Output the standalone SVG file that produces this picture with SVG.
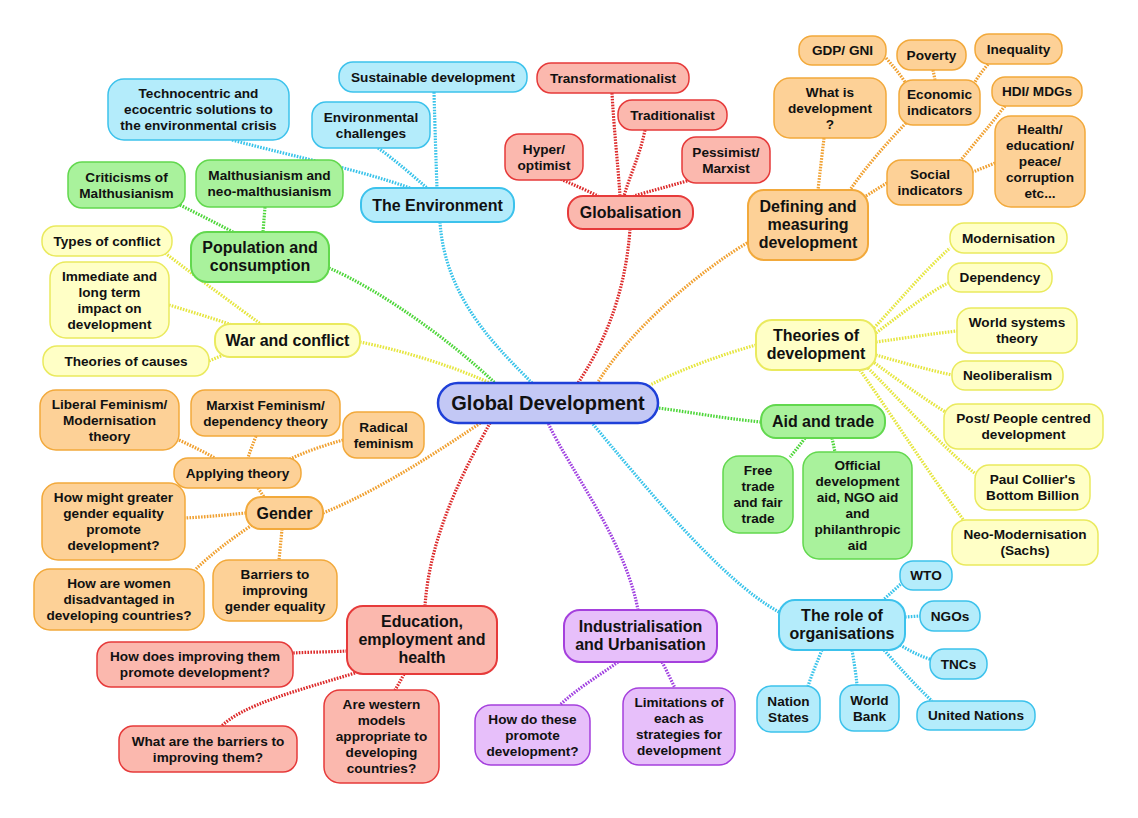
<svg xmlns="http://www.w3.org/2000/svg" width="1138" height="818" viewBox="0 0 1138 818">
<style>
text{font-family:"Liberation Sans",Arial,sans-serif;font-weight:bold;fill:#111;text-anchor:middle}
.t{font-size:13.6px}
.m{font-size:16px}
.c{font-size:20px}
rect{stroke-width:1.5}
.mn{stroke-width:2}
.nb{fill:#b4ecfb;stroke:#3cc2ec}
.nr{fill:#fbb8ae;stroke:#e63a3a}
.no{fill:#fdd197;stroke:#f2a93b}
.ny{fill:#ffffc6;stroke:#eaea5e}
.ng{fill:#a9f29c;stroke:#62d84e}
.np{fill:#e7bffa;stroke:#a540dd}
.nc{fill:#c3c8f5;stroke:#1f40d8;stroke-width:2.5}
#connectors path{fill:none;stroke-width:3.2;stroke-dasharray:1.6 1.3}
.lb{stroke:#38c3ea}.lr{stroke:#dc2a2a}.lo{stroke:#f0a030}.ly{stroke:#e6e640}.lg{stroke:#4ed63a}.lp{stroke:#a040e0}
</style>
<rect x="0" y="0" width="1138" height="818" fill="#ffffff" stroke="none"/>
<g id="connectors">
<path class="lb" d="M440,222 C445,300 500,350 532,383"/>
<path class="lr" d="M630,229 C625,300 600,350 578,383"/>
<path class="lo" d="M752,240 C700,270 630,330 598,382"/>
<path class="ly" d="M756,345 C720,355 680,370 650,385"/>
<path class="lg" d="M761,422 C720,418 690,412 658,408"/>
<path class="lb" d="M779,612 C720,580 640,480 592,423"/>
<path class="lp" d="M638,610 C625,540 570,470 548,423"/>
<path class="lr" d="M425,606 C430,530 470,460 490,423"/>
<path class="lo" d="M323,513 C380,490 440,450 482,422"/>
<path class="ly" d="M360,342 C400,350 450,365 490,383"/>
<path class="lg" d="M329,268 C380,290 450,340 495,383"/>
<path class="lb" d="M434,92 C435,130 436,160 437,188"/>
<path class="lb" d="M378,148 C395,160 412,175 427,188"/>
<path class="lb" d="M232,140 C300,158 360,170 410,188"/>
<path class="lr" d="M612,93 C614,130 618,165 620,196"/>
<path class="lr" d="M645,130 C640,155 630,175 624,196"/>
<path class="lr" d="M558,178 C572,184 586,190 598,196"/>
<path class="lr" d="M690,180 C670,186 650,191 634,196"/>
<path class="lo" d="M824,138 C822,155 820,172 818,190"/>
<path class="lo" d="M906,123 C885,145 865,168 850,190"/>
<path class="lo" d="M887,183 C880,187 874,191 866,196"/>
<path class="lo" d="M886,58 C893,66 899,73 905,82"/>
<path class="lo" d="M933,70 L935,80"/>
<path class="lo" d="M990,62 C984,69 979,75 975,82"/>
<path class="lo" d="M1005,106 C990,125 975,143 960,161"/>
<path class="lo" d="M995,163 C988,166 980,169 973,172"/>
<path class="ly" d="M874,328 C900,300 925,270 950,248"/>
<path class="ly" d="M876,333 C900,315 925,295 948,283"/>
<path class="ly" d="M876,342 C905,338 930,334 957,331"/>
<path class="ly" d="M876,355 C900,362 925,369 952,375"/>
<path class="ly" d="M872,361 C895,378 920,396 947,413"/>
<path class="ly" d="M866,366 C900,400 940,445 978,476"/>
<path class="ly" d="M860,370 C895,420 930,475 965,522"/>
<path class="lg" d="M805,438 C800,445 795,451 790,457"/>
<path class="lg" d="M832,438 L835,452"/>
<path class="lb" d="M882,601 C890,594 896,588 902,583"/>
<path class="lb" d="M905,617 L920,616"/>
<path class="lb" d="M900,645 C910,651 920,656 932,660"/>
<path class="lb" d="M822,650 C817,662 812,674 808,686"/>
<path class="lb" d="M852,650 C854,662 856,674 857,685"/>
<path class="lb" d="M884,650 C900,668 915,685 932,701"/>
<path class="lp" d="M618,662 C600,675 575,690 560,705"/>
<path class="lp" d="M662,662 C667,671 671,680 675,688"/>
<path class="lr" d="M347,651 C330,652 310,652 293,653"/>
<path class="lr" d="M355,673 C300,690 240,705 220,728"/>
<path class="lr" d="M404,674 C401,680 398,685 395,690"/>
<path class="lo" d="M258,488 L264,497"/>
<path class="lo" d="M246,513 C225,515 205,517 185,518"/>
<path class="lo" d="M252,525 C230,540 210,555 195,570"/>
<path class="lo" d="M282,529 C281,540 280,550 279,560"/>
<path class="lo" d="M179,440 C192,446 204,452 215,458"/>
<path class="lo" d="M256,436 C253,444 250,451 248,458"/>
<path class="lo" d="M343,440 C325,445 305,452 290,459"/>
<path class="ly" d="M165,253 C200,280 235,305 262,325"/>
<path class="ly" d="M169,305 C192,312 215,319 238,327"/>
<path class="ly" d="M209,361 C216,358 223,355 230,352"/>
<path class="lg" d="M180,205 C198,214 216,223 233,232"/>
<path class="lg" d="M265,207 L263,232"/>
</g>
<g id="central"><rect class="nc" x="438" y="383" width="220" height="40" rx="20"/><text class="c" x="548" y="410">Global Development</text></g>
<g id="environment"><rect class="nb mn" x="361" y="188" width="153" height="34" rx="15"/><text class="m" x="437.5" y="210.5">The Environment</text></g>
<g id="sustainable"><rect class="nb" x="339" y="62" width="188" height="30" rx="14"/><text class="t" x="433" y="81.5">Sustainable development</text></g>
<g id="env-challenges"><rect class="nb" x="312" y="102" width="118" height="46" rx="14"/><text class="t"><tspan x="371" y="121.5">Environmental</tspan><tspan x="371" y="137.5">challenges</tspan></text></g>
<g id="technocentric"><rect class="nb" x="108" y="79" width="181" height="61" rx="16"/><text class="t"><tspan x="198.5" y="98">Technocentric and</tspan><tspan x="198.5" y="114">ecocentric solutions to</tspan><tspan x="198.5" y="130">the environmental crisis</tspan></text></g>
<g id="organisations"><rect class="nb mn" x="779" y="600" width="126" height="50" rx="16"/><text class="m"><tspan x="842" y="621">The role of</tspan><tspan x="842" y="639">organisations</tspan></text></g>
<g id="wto"><rect class="nb" x="900" y="561" width="52" height="29" rx="13"/><text class="t" x="926" y="580">WTO</text></g>
<g id="ngos"><rect class="nb" x="920" y="601" width="60" height="30" rx="14"/><text class="t" x="950" y="620.5">NGOs</text></g>
<g id="tncs"><rect class="nb" x="930" y="649" width="57" height="30" rx="14"/><text class="t" x="958.5" y="668.5">TNCs</text></g>
<g id="nation-states"><rect class="nb" x="757" y="686" width="63" height="46" rx="14"/><text class="t"><tspan x="788.5" y="705.5">Nation</tspan><tspan x="788.5" y="721.5">States</tspan></text></g>
<g id="world-bank"><rect class="nb" x="840" y="685" width="59" height="46" rx="14"/><text class="t"><tspan x="869.5" y="704.5">World</tspan><tspan x="869.5" y="720.5">Bank</tspan></text></g>
<g id="united-nations"><rect class="nb" x="917" y="701" width="118" height="29" rx="13"/><text class="t" x="976" y="720">United Nations</text></g>
<g id="globalisation"><rect class="nr mn" x="568" y="196" width="125" height="33" rx="15"/><text class="m" x="630.5" y="218">Globalisation</text></g>
<g id="transformationalist"><rect class="nr" x="537" y="63" width="152" height="30" rx="14"/><text class="t" x="613" y="82.5">Transformationalist</text></g>
<g id="traditionalist"><rect class="nr" x="618" y="100" width="109" height="30" rx="14"/><text class="t" x="672.5" y="119.5">Traditionalist</text></g>
<g id="hyper"><rect class="nr" x="505" y="134" width="78" height="46" rx="14"/><text class="t"><tspan x="544" y="153.5">Hyper/</tspan><tspan x="544" y="169.5">optimist</tspan></text></g>
<g id="pessimist"><rect class="nr" x="682" y="137" width="88" height="46" rx="14"/><text class="t"><tspan x="726" y="156.5">Pessimist/</tspan><tspan x="726" y="172.5">Marxist</tspan></text></g>
<g id="education"><rect class="nr mn" x="347" y="606" width="150" height="68" rx="16"/><text class="m"><tspan x="422" y="627">Education,</tspan><tspan x="422" y="645">employment and</tspan><tspan x="422" y="663">health</tspan></text></g>
<g id="how-does"><rect class="nr" x="97" y="642" width="196" height="45" rx="14"/><text class="t"><tspan x="195" y="661">How does improving them</tspan><tspan x="195" y="677">promote development?</tspan></text></g>
<g id="barriers-edu"><rect class="nr" x="119" y="726" width="178" height="46" rx="14"/><text class="t"><tspan x="208" y="745.5">What are the barriers to</tspan><tspan x="208" y="761.5">improving them?</tspan></text></g>
<g id="western"><rect class="nr" x="324" y="690" width="115" height="93" rx="16"/><text class="t"><tspan x="381.5" y="709">Are western</tspan><tspan x="381.5" y="725">models</tspan><tspan x="381.5" y="741">appropriate to</tspan><tspan x="381.5" y="757">developing</tspan><tspan x="381.5" y="773">countries?</tspan></text></g>
<g id="defining"><rect class="no mn" x="748" y="190" width="120" height="70" rx="16"/><text class="m"><tspan x="808" y="212">Defining and</tspan><tspan x="808" y="230">measuring</tspan><tspan x="808" y="248">development</tspan></text></g>
<g id="what-is"><rect class="no" x="774" y="78" width="112" height="60" rx="16"/><text class="t"><tspan x="830" y="96.5">What is</tspan><tspan x="830" y="112.5">development</tspan><tspan x="830" y="128.5">?</tspan></text></g>
<g id="gdp"><rect class="no" x="799" y="36" width="87" height="29" rx="13"/><text class="t" x="842.5" y="55">GDP/ GNI</text></g>
<g id="poverty"><rect class="no" x="897" y="40" width="69" height="30" rx="14"/><text class="t" x="931.5" y="59.5">Poverty</text></g>
<g id="inequality"><rect class="no" x="975" y="34" width="87" height="30" rx="14"/><text class="t" x="1018.5" y="53.5">Inequality</text></g>
<g id="economic"><rect class="no" x="899" y="80" width="81" height="45" rx="14"/><text class="t"><tspan x="939.5" y="99">Economic</tspan><tspan x="939.5" y="115">indicators</tspan></text></g>
<g id="hdi"><rect class="no" x="992" y="77" width="90" height="29" rx="13"/><text class="t" x="1037" y="96">HDI/ MDGs</text></g>
<g id="social"><rect class="no" x="887" y="160" width="86" height="45" rx="14"/><text class="t"><tspan x="930" y="179">Social</tspan><tspan x="930" y="195">indicators</tspan></text></g>
<g id="health"><rect class="no" x="995" y="116" width="90" height="91" rx="16"/><text class="t"><tspan x="1040" y="134">Health/</tspan><tspan x="1040" y="150">education/</tspan><tspan x="1040" y="166">peace/</tspan><tspan x="1040" y="182">corruption</tspan><tspan x="1040" y="198">etc...</tspan></text></g>
<g id="gender"><rect class="no mn" x="246" y="497" width="77" height="32" rx="15"/><text class="m" x="284.5" y="518.5">Gender</text></g>
<g id="applying"><rect class="no" x="174" y="458" width="127" height="30" rx="14"/><text class="t" x="237.5" y="477.5">Applying theory</text></g>
<g id="liberal"><rect class="no" x="40" y="390" width="139" height="60" rx="16"/><text class="t"><tspan x="109.5" y="408.5">Liberal Feminism/</tspan><tspan x="109.5" y="424.5">Modernisation</tspan><tspan x="109.5" y="440.5">theory</tspan></text></g>
<g id="marxist"><rect class="no" x="191" y="390" width="149" height="46" rx="14"/><text class="t"><tspan x="265.5" y="409.5">Marxist Feminism/</tspan><tspan x="265.5" y="425.5">dependency theory</tspan></text></g>
<g id="radical"><rect class="no" x="343" y="412" width="81" height="46" rx="14"/><text class="t"><tspan x="383.5" y="431.5">Radical</tspan><tspan x="383.5" y="447.5">feminism</tspan></text></g>
<g id="how-might"><rect class="no" x="42" y="483" width="143" height="77" rx="16"/><text class="t"><tspan x="113.5" y="502">How might greater</tspan><tspan x="113.5" y="518">gender equality</tspan><tspan x="113.5" y="534">promote</tspan><tspan x="113.5" y="550">development?</tspan></text></g>
<g id="how-are"><rect class="no" x="34" y="569" width="170" height="61" rx="16"/><text class="t"><tspan x="119" y="588">How are women</tspan><tspan x="119" y="604">disadvantaged in</tspan><tspan x="119" y="620">developing countries?</tspan></text></g>
<g id="barriers-gender"><rect class="no" x="213" y="560" width="124" height="61" rx="16"/><text class="t"><tspan x="275" y="579">Barriers to</tspan><tspan x="275" y="595">improving</tspan><tspan x="275" y="611">gender equality</tspan></text></g>
<g id="theories"><rect class="ny mn" x="756" y="320" width="120" height="50" rx="16"/><text class="m"><tspan x="816" y="341">Theories of</tspan><tspan x="816" y="359">development</tspan></text></g>
<g id="modernisation"><rect class="ny" x="950" y="223" width="117" height="30" rx="14"/><text class="t" x="1008.5" y="242.5">Modernisation</text></g>
<g id="dependency"><rect class="ny" x="948" y="263" width="104" height="29" rx="13"/><text class="t" x="1000" y="282">Dependency</text></g>
<g id="world-systems"><rect class="ny" x="957" y="308" width="120" height="45" rx="14"/><text class="t"><tspan x="1017" y="327">World systems</tspan><tspan x="1017" y="343">theory</tspan></text></g>
<g id="neoliberalism"><rect class="ny" x="952" y="361" width="111" height="29" rx="13"/><text class="t" x="1007.5" y="380">Neoliberalism</text></g>
<g id="post"><rect class="ny" x="944" y="404" width="159" height="45" rx="14"/><text class="t"><tspan x="1023.5" y="423">Post/ People centred</tspan><tspan x="1023.5" y="439">development</tspan></text></g>
<g id="collier"><rect class="ny" x="975" y="465" width="115" height="45" rx="14"/><text class="t"><tspan x="1032.5" y="484">Paul Collier's</tspan><tspan x="1032.5" y="500">Bottom Billion</tspan></text></g>
<g id="neo-mod"><rect class="ny" x="952" y="520" width="146" height="45" rx="14"/><text class="t"><tspan x="1025" y="539">Neo-Modernisation</tspan><tspan x="1025" y="555">(Sachs)</tspan></text></g>
<g id="war"><rect class="ny mn" x="215" y="324" width="145" height="33" rx="15"/><text class="m" x="287.5" y="346">War and conflict</text></g>
<g id="types"><rect class="ny" x="42" y="226" width="130" height="30" rx="14"/><text class="t" x="107" y="245.5">Types of conflict</text></g>
<g id="immediate"><rect class="ny" x="50" y="262" width="119" height="76" rx="16"/><text class="t"><tspan x="109.5" y="280.5">Immediate and</tspan><tspan x="109.5" y="296.5">long term</tspan><tspan x="109.5" y="312.5">impact on</tspan><tspan x="109.5" y="328.5">development</tspan></text></g>
<g id="causes"><rect class="ny" x="43" y="346" width="166" height="30" rx="14"/><text class="t" x="126" y="365.5">Theories of causes</text></g>
<g id="population"><rect class="ng mn" x="191" y="232" width="138" height="50" rx="16"/><text class="m"><tspan x="260" y="253">Population and</tspan><tspan x="260" y="271">consumption</tspan></text></g>
<g id="criticisms"><rect class="ng" x="68" y="162" width="117" height="46" rx="14"/><text class="t"><tspan x="126.5" y="181.5">Criticisms of</tspan><tspan x="126.5" y="197.5">Malthusianism</tspan></text></g>
<g id="malthusianism"><rect class="ng" x="196" y="160" width="147" height="47" rx="14"/><text class="t"><tspan x="269.5" y="180">Malthusianism and</tspan><tspan x="269.5" y="196">neo-malthusianism</tspan></text></g>
<g id="aid"><rect class="ng mn" x="761" y="405" width="124" height="33" rx="15"/><text class="m" x="823" y="427">Aid and trade</text></g>
<g id="free-trade"><rect class="ng" x="723" y="456" width="70" height="77" rx="16"/><text class="t"><tspan x="758" y="475">Free</tspan><tspan x="758" y="491">trade</tspan><tspan x="758" y="507">and fair</tspan><tspan x="758" y="523">trade</tspan></text></g>
<g id="official"><rect class="ng" x="803" y="452" width="109" height="107" rx="16"/><text class="t"><tspan x="857.5" y="470">Official</tspan><tspan x="857.5" y="486">development</tspan><tspan x="857.5" y="502">aid, NGO aid</tspan><tspan x="857.5" y="518">and</tspan><tspan x="857.5" y="534">philanthropic</tspan><tspan x="857.5" y="550">aid</tspan></text></g>
<g id="industrialisation"><rect class="np mn" x="564" y="610" width="153" height="52" rx="16"/><text class="m"><tspan x="640.5" y="632">Industrialisation</tspan><tspan x="640.5" y="650">and Urbanisation</tspan></text></g>
<g id="how-do"><rect class="np" x="475" y="705" width="115" height="60" rx="16"/><text class="t"><tspan x="532.5" y="723.5">How do these</tspan><tspan x="532.5" y="739.5">promote</tspan><tspan x="532.5" y="755.5">development?</tspan></text></g>
<g id="limitations"><rect class="np" x="623" y="688" width="112" height="77" rx="16"/><text class="t"><tspan x="679" y="707">Limitations of</tspan><tspan x="679" y="723">each as</tspan><tspan x="679" y="739">strategies for</tspan><tspan x="679" y="755">development</tspan></text></g>
</svg>
